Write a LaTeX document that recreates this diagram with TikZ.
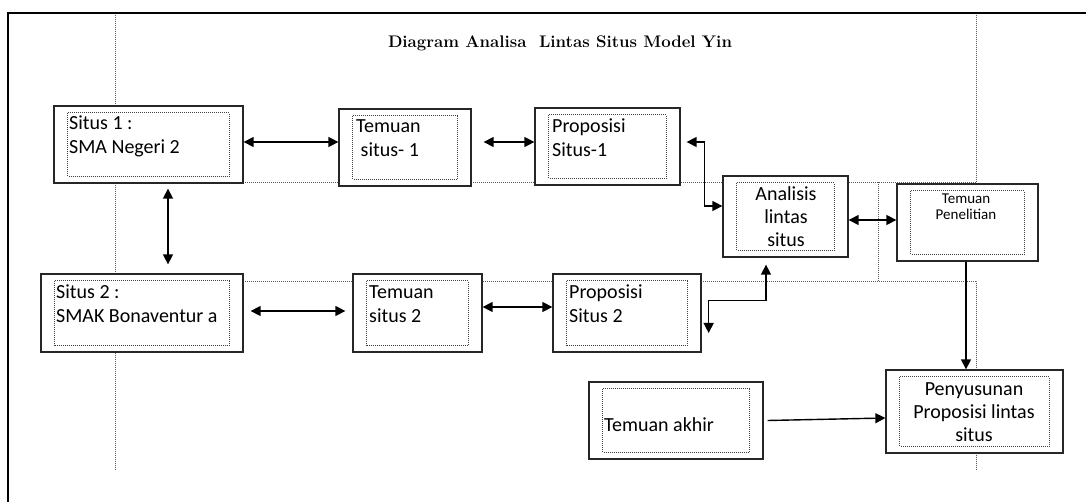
\documentclass[tikz,border=0pt]{standalone}
\usepackage{fontspec}
\newfontfamily\calibri{Carlito}
\usetikzlibrary{arrows.meta,fit}

\newcommand{\kotak}[5]{%
  \node[kotak, fit={(#2,#3) (#4,#5)}] (#1) {};
  \draw[dalam] ([shift={(14.5,7.5)}]#1.north west) rectangle ([shift={(-14.5,-7.5)}]#1.south east);
}

\begin{document}
\begin{tikzpicture}[x=1pt, y=-1pt, line join=miter,
  kotak/.style={draw=black!85, line width=1.3pt, fill=white, inner sep=0pt},
  dalam/.style={draw=black!75, line width=0.8pt, dash pattern=on 1pt off 1pt},
  garis/.style={draw=black!65, line width=1pt, dash pattern=on 1pt off 1pt},
  teks/.style={font=\calibri\fontsize{20}{24}\selectfont, inner sep=0pt, align=left},
  teksc/.style={teks, align=center},
  panah/.style={-{Triangle[length=10pt,width=10pt]}, line width=1.4pt},
  panah2/.style={{Triangle[length=10pt,width=10pt]}-{Triangle[length=10pt,width=10pt]}, line width=1.4pt}]
 \useasboundingbox (0,0) rectangle (1086,502);
 % bingkai
 \draw[line width=2.2pt] (8,502) -- (8,13) -- (1086,13);
 % garis bantu titik-titik
 \draw[garis] (115,15) -- (115,470);
 \draw[garis] (976,15) -- (976,182.5) -- (243,182.5);
 \draw[garis] (878,182.5) -- (878,281.5);
 \draw[garis] (243,281.5) -- (976,281.5) -- (976,470);
 \node[font=\bfseries\fontsize{16.8}{20}\selectfont, anchor=base, inner sep=0pt] (judul) at (560,48) {Diagram Analisa\ \ Lintas Situs Model Yin};
 % kotak-kotak
 \kotak{s1}{54}{106}{243}{183}
 \kotak{t1}{339}{109}{471}{186}
 \kotak{p1}{535}{108}{680}{185}
 \kotak{an}{723}{176}{848}{257}
 \kotak{tp}{897}{184}{1038}{261}
 \kotak{s2}{41}{274}{243}{352}
 \kotak{t2}{353}{274}{482}{352}
 \kotak{p2}{553}{274}{701}{352}
 \kotak{ta}{589}{382}{763}{459}
 \kotak{py}{886}{370}{1063}{453}
 % teks (base = baris terakhir)
 \node[teks, anchor=base west] (s1t) at (69,154) {Situs 1 :\\SMA Negeri 2};
 \node[teks, anchor=base west] (t1t) at (356,157) {Temuan\\\ situs- 1};
 \node[teks, anchor=base west] (p1t) at (552,157) {Proposisi\\Situs-1};
 \node[teksc, anchor=base] (ant) at (786,247) {Analisis\\[-1pt]lintas\\[-1pt]situs};
 \node[teksc, font=\calibri\fontsize{15}{16}\selectfont, anchor=base] (tpt) at (966,220) {Temuan\\Penelitian};
 \node[teks, anchor=base west] (s2t) at (56,323) {Situs 2 :\\SMAK Bonaventur a};
 \node[teks, anchor=base west] (t2t) at (369,323) {Temuan\\situs 2};
 \node[teks, anchor=base west] (p2t) at (569,323) {Proposisi\\Situs 2};
 \node[teks, anchor=base west] (tat) at (604,431) {Temuan akhir};
 \node[teksc, anchor=base] (pyt) at (974,441) {Penyusunan\\[-1pt]Proposisi lintas\\[-1pt]situs};
 % panah
 \draw[panah2] ([yshift=2.5pt]s1.east) -- ([yshift=2.5pt]s1.east -| t1.west);
 \draw[panah2] ([xshift=12pt,yshift=5.5pt]t1.east) -- ([yshift=5.5pt]t1.east -| p1.west);
 \draw[panah2] ([xshift=6pt,yshift=4.5pt]p1.east) -- ++(18pt,0) |- ([yshift=10.5pt]an.west);
 \draw[panah2] ([yshift=-3.5pt]an.east) -- ([yshift=-3.5pt]an.east -| tp.west);
 \draw[panah2] ([xshift=19.5pt,yshift=-5pt]s1.south) -- ([xshift=19.5pt,yshift=9pt]s1.south |- s2.north);
 \draw[panah2] ([xshift=7pt,yshift=2pt]s2.east) -- ([xshift=-7pt,yshift=2pt]s2.east -| t2.west);
 \draw[panah2] ([yshift=6pt]t2.east) -- ([yshift=6pt]t2.east -| p2.west);
 \draw[panah2] ([xshift=7pt,yshift=-20pt]p2.east) |- ([xshift=-19.5pt,yshift=-43pt]an.south) -- ([xshift=-19.5pt,yshift=-7pt]an.south);
 \draw[panah] ([xshift=-1.5pt]tp.south) -- ([xshift=-1.5pt]tp.south |- py.north);
 \draw[panah] ([xshift=4pt]ta.east) -- ([yshift=-6.5pt]py.west);
\end{tikzpicture}
\end{document}
